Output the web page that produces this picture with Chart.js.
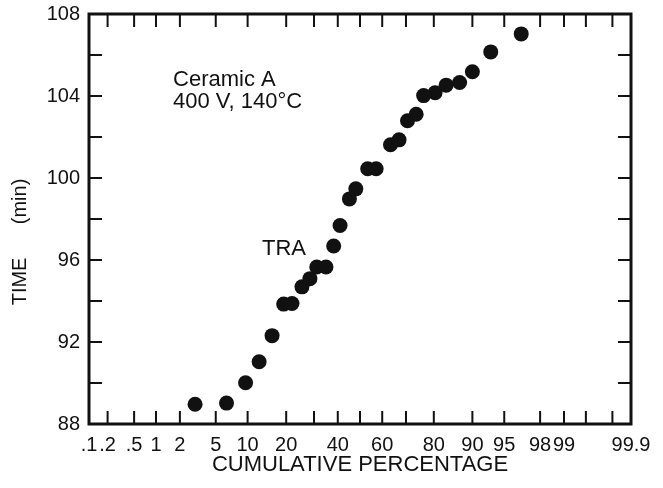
<!DOCTYPE html>
<html lang="en">
<head>
  <meta charset="UTF-8">
  <title>TRA - Ceramic A</title>
  <script src="https://cdn.jsdelivr.net/npm/chart.js"></script>
  <style>
    body { margin: 0; background: #fff; }
  </style>
</head>
<body>
  <canvas id="graficoTRA" width="663" height="488"></canvas>

<script>
  // cumulative percentage of each point (read from the probability paper)
  const cumPercent = [3.0, 6.4, 9.6, 12.5, 15.8, 19.2, 21.9, 25.4, 28.4, 31.1, 34.9, 38.2, 41.0, 45.2,
    48.1, 53.5, 57.3, 63.6, 67.2, 70.6, 73.9, 76.6, 80.4, 83.7, 87.2, 90.0, 93.2, 96.7];
  // time to failure (min)
  const timeMin = [88.96, 89.02, 90.01, 91.04, 92.31, 93.85, 93.88, 94.69, 95.09, 95.66, 95.66, 96.68, 97.68, 98.98,
    99.47, 100.45, 100.45, 101.62, 101.86, 102.79, 103.11, 104.02, 104.16, 104.53, 104.66, 105.18, 106.15, 107.03];

  // x axis labels (percent) and the small tick marks of the paper
  const xLabelPercent = [0.1, 0.2, 0.5, 1, 2, 5, 10, 20, 40, 60, 80, 90, 95, 98, 99, 99.9];
  const xLabelText = ['.1', '.2', '.5', '1', '2', '5', '10', '20', '40', '60', '80', '90', '95', '98', '99', '99.9'];
  const xMarkPercent = [0.2, 0.5, 1, 2, 5, 10, 20, 30, 40, 50, 60, 70, 80, 90, 95, 98, 99, 99.5, 99.8];
  const yLabelValues = [88, 92, 96, 100, 104, 108];

  const fonte = "'Liberation Sans', Arial, Helvetica, sans-serif";
  const cor = '#111';

  // inverse of the normal cdf (Acklam) -> probability paper scale
  function probit(p) {
    const a = [-3.969683028665376e+01, 2.209460984245205e+02, -2.759285104469687e+02, 1.383577518672690e+02, -3.066479806614716e+01, 2.506628277459239e+00];
    const b = [-5.447609879822406e+01, 1.615858368580409e+02, -1.556989798598866e+02, 6.680131188771972e+01, -1.328068155288572e+01];
    const c = [-7.784894002430293e-03, -3.223964580411365e-01, -2.400758277161838e+00, -2.549732539343734e+00, 4.374664141464968e+00, 2.938163982698783e+00];
    const d = [7.784695709041462e-03, 3.224671290700398e-01, 2.445134137142996e+00, 3.754408661907416e+00];
    const plow = 0.02425;
    if (p < plow) {
      const q = Math.sqrt(-2 * Math.log(p));
      return (((((c[0] * q + c[1]) * q + c[2]) * q + c[3]) * q + c[4]) * q + c[5]) / ((((d[0] * q + d[1]) * q + d[2]) * q + d[3]) * q + 1);
    }
    if (p > 1 - plow) {
      const q = Math.sqrt(-2 * Math.log(1 - p));
      return -(((((c[0] * q + c[1]) * q + c[2]) * q + c[3]) * q + c[4]) * q + c[5]) / ((((d[0] * q + d[1]) * q + d[2]) * q + d[3]) * q + 1);
    }
    const q = p - 0.5, r = q * q;
    return (((((a[0] * r + a[1]) * r + a[2]) * r + a[3]) * r + a[4]) * r + a[5]) * q / (((((b[0] * r + b[1]) * r + b[2]) * r + b[3]) * r + b[4]) * r + 1);
  }

  let pontos = [];
  for (let i = 0; i < cumPercent.length; i++) {
    pontos.push({ x: probit(cumPercent[i] / 100), y: timeMin[i] });
  }

  // frame, inward tick marks and the text inside the plot
  const moldura = {
    id: 'moldura',
    afterDraw(chart) {
      const ctx = chart.ctx;
      const area = chart.chartArea;
      const sx = chart.scales.x, sy = chart.scales.y;
      const tam = 13;
      ctx.save();
      ctx.strokeStyle = cor;
      ctx.lineWidth = 2;
      xMarkPercent.forEach(p => {
        const px = sx.getPixelForValue(probit(p / 100));
        ctx.beginPath();
        ctx.moveTo(px, area.bottom); ctx.lineTo(px, area.bottom - tam);
        ctx.moveTo(px, area.top); ctx.lineTo(px, area.top + tam);
        ctx.stroke();
      });
      for (let v = 90; v < 108; v += 2) {
        const py = sy.getPixelForValue(v);
        ctx.beginPath();
        ctx.moveTo(area.left, py); ctx.lineTo(area.left + tam, py);
        ctx.moveTo(area.right, py); ctx.lineTo(area.right - tam, py);
        ctx.stroke();
      }
      ctx.lineWidth = 3;
      ctx.strokeRect(area.left, area.top, area.right - area.left, area.bottom - area.top);

      ctx.fillStyle = cor;
      ctx.font = '22px ' + fonte;
      ctx.textAlign = 'left';
      ctx.textBaseline = 'alphabetic';
      ctx.fillText('Ceramic A', sx.getPixelForValue(probit(0.0165)), sy.getPixelForValue(104.49));
      ctx.fillText('400 V, 140°C', sx.getPixelForValue(probit(0.0165)), sy.getPixelForValue(103.41));
      ctx.fillText('TRA', sx.getPixelForValue(probit(0.132)), sy.getPixelForValue(96.24));

      // y axis title
      ctx.translate(20, (area.top + area.bottom) / 2 + 23);
      ctx.rotate(-Math.PI / 2);
      ctx.font = '20px ' + fonte;
      ctx.textAlign = 'center';
      ctx.textBaseline = 'middle';
      ctx.fillText('TIME      (min)', 0, 0);
      ctx.restore();
    }
  };

  const config = {
    type: 'scatter',
    data: {
      datasets: [{
        label: 'TRA',
        data: pontos,
        backgroundColor: cor,
        borderWidth: 0,
        pointRadius: 7.5,
        pointHoverRadius: 7.5
      }]
    },
    options: {
      responsive: false,
      animation: false,
      layout: { padding: { top: 14, right: 32, left: 0, bottom: 0 } },
      plugins: {
        legend: { display: false },
        tooltip: { enabled: false }
      },
      scales: {
        x: {
          type: 'linear',
          min: probit(0.001),
          max: probit(0.999),
          afterBuildTicks: (s) => {
            s.ticks = xLabelPercent.map(p => ({ value: probit(p / 100) }));
          },
          afterFit: (s) => {
            s.height = 64;
            s.paddingLeft = 0;
            s.paddingRight = 0;
          },
          grid: { display: false, drawTicks: false },
          border: { display: false },
          ticks: {
            autoSkip: false,
            maxRotation: 0,
            padding: 9,
            color: cor,
            font: { family: fonte, size: 20 },
            callback: (v, i) => xLabelText[i]
          },
          title: {
            display: true,
            text: 'CUMULATIVE PERCENTAGE',
            color: cor,
            font: { family: fonte, size: 22 },
            padding: { top: 0, bottom: 10 }
          }
        },
        y: {
          min: 88,
          max: 108,
          afterFit: (s) => {
            s.width = 89;
            s.paddingTop = 0;
            s.paddingBottom = 0;
          },
          grid: { display: false, drawTicks: false },
          border: { display: false },
          ticks: {
            stepSize: 2,
            padding: 9,
            color: cor,
            font: { family: fonte, size: 20 },
            callback: (v) => yLabelValues.includes(v) ? String(v) : ''
          }
        }
      }
    },
    plugins: [moldura]
  };

  new Chart(document.getElementById('graficoTRA'), config);
</script>
</body>
</html>
